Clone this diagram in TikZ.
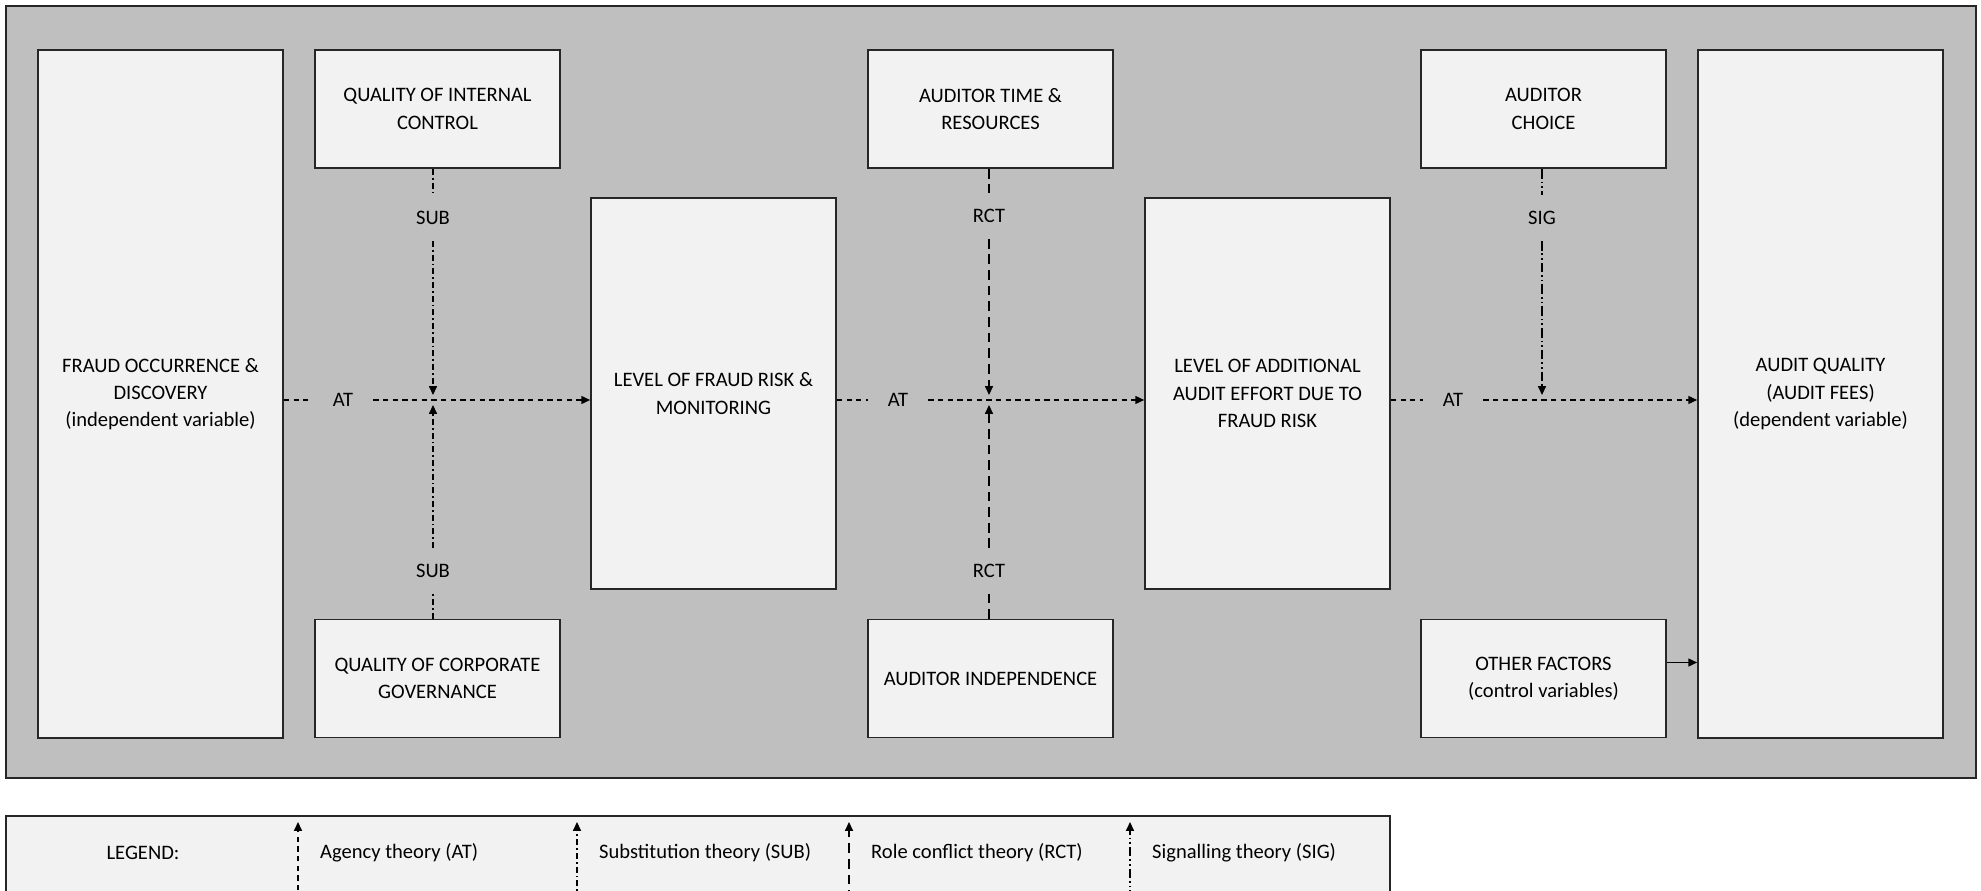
\documentclass[tikz,border=0pt]{standalone}
\usepackage{fontspec}
\setmainfont{Carlito}
\usetikzlibrary{arrows.meta}
\definecolor{panelgray}{HTML}{BFBFBF}
\definecolor{boxgray}{HTML}{F2F2F2}
\definecolor{edgegray}{HTML}{262626}

\begin{document}
\begin{tikzpicture}[x=0.02cm, y=-0.02cm,
        font=\fontsize{11.7}{15.5}\selectfont,
        box/.style={draw=edgegray, line width=1pt, fill=boxgray, align=center, minimum width=4.9cm, inner sep=2pt},
        smallbox/.style={box, minimum height=2.36cm},
        tallbox/.style={box, minimum height=13.76cm},
        midbox/.style={box, minimum height=7.82cm},
        lbl/.style={minimum width=1.2cm, minimum height=0.9cm, inner sep=0pt},
        link/.style={line width=0.8pt, black},
        atline/.style={link, dash pattern=on 3pt off 2.5pt},
        subline/.style={link, dash pattern=on 3.4pt off 1.7pt on 1pt off 1.7pt},
        rctline/.style={link, dash pattern=on 5.5pt off 3.4pt},
        sigline/.style={link, dash pattern=on 5.5pt off 1.7pt on 0.9pt off 1.7pt on 0.9pt off 1.7pt},
        tip/.style={-{Triangle[length=5pt, width=4.5pt]}}]
    \useasboundingbox (0,0) rectangle (1981,891);
    \clip (0,0) rectangle (1981,891);

    % panel
    \draw[draw=edgegray, line width=1pt, fill=panelgray] (6,6) rectangle (1976,778);

    % boxes
    \node[tallbox] (fraud) at (160.5,394) {FRAUD OCCURRENCE \&\\DISCOVERY\\(independent variable)};
    \node[smallbox] (intctrl) at (437.5,109) {QUALITY OF INTERNAL\\CONTROL};
    \node[smallbox] (corpgov) at (437.5,678.5) {QUALITY OF CORPORATE\\GOVERNANCE};
    \node[midbox] (riskmon) at (713.5,393.5) {LEVEL OF FRAUD RISK \&\\MONITORING};
    \node[smallbox] (auditres) at (990.5,109) {AUDITOR TIME \&\\RESOURCES};
    \node[smallbox] (auditind) at (990.5,678.5) {AUDITOR INDEPENDENCE};
    \node[midbox] (effort) at (1267.5,393.5) {LEVEL OF ADDITIONAL\\AUDIT EFFORT DUE TO\\FRAUD RISK};
    \node[smallbox] (choice) at (1543.5,109) {AUDITOR\\CHOICE};
    \node[smallbox] (other) at (1543.5,678.5) {OTHER FACTORS\\(control variables)};
    \node[tallbox] (quality) at (1820.5,394) {AUDIT QUALITY\\(AUDIT FEES)\\(dependent variable)};

    % theory labels
    \node[lbl] (atA) at (343,400) {AT};
    \node[lbl] (atB) at (898,400) {AT};
    \node[lbl] (atC) at (1453,400) {AT};
    \node[lbl] (subA) at (433,218) {SUB};
    \node[lbl] (subB) at (433,571) {SUB};
    \node[lbl] (rctA) at (989,216) {RCT};
    \node[lbl] (rctB) at (989,571) {RCT};
    \node[lbl] (sigA) at (1542,218) {SIG};
    \coordinate (jA) at (433,400);
    \coordinate (jB) at (989,400);
    \coordinate (jC) at (1542,400);

    % agency theory chain
    \draw[atline] (atA -| fraud.east) -- (atA.west);
    \draw[atline, tip] (atA.east) -- (atA -| riskmon.west);
    \draw[atline] (atB -| riskmon.east) -- (atB.west);
    \draw[atline, tip] (atB.east) -- (atB -| effort.west);
    \draw[atline] (atC -| effort.east) -- (atC.west);
    \draw[atline, tip] (atC.east) -- (atC -| quality.west);

    % moderators
    \draw[subline] (subA |- intctrl.south) -- (subA.north);
    \draw[subline, tip, shorten >=0.1cm] (subA.south) -- (jA);
    \draw[subline] (subB |- corpgov.north) -- (subB.south);
    \draw[subline, tip, shorten >=0.1cm] (subB.north) -- (jA);
    \draw[rctline] (rctA |- auditres.south) -- (rctA.north);
    \draw[rctline, tip, shorten >=0.1cm] (rctA.south) -- (jB);
    \draw[rctline] (rctB |- auditind.north) -- (rctB.south);
    \draw[rctline, tip, shorten >=0.1cm] (rctB.north) -- (jB);
    \draw[sigline] (sigA |- choice.south) -- (sigA.north);
    \draw[sigline, tip, shorten >=0.1cm] (sigA.south) -- (jC);
    \draw[link, tip] ([yshift=0.32cm]other.east) -- ([yshift=0.32cm]other.east -| quality.west);

    % legend
    \draw[draw=edgegray, line width=1pt, fill=boxgray] (6,816) rectangle (1390,900);
    \node (legend) at (143,853) {LEGEND:};
    \foreach \x/\style/\name in {298/atline/{Agency theory (AT)}, 577/subline/{Substitution theory (SUB)}, 849/rctline/{Role conflict theory (RCT)}, 1130/sigline/{Signalling theory (SIG)}} {
        \coordinate (lb\x) at (\x,900);
        \coordinate (lt\x) at (\x,822);
        \draw[\style, tip] (lb\x) -- (lt\x);
        \node[anchor=west] (key\x) at (\x+16,853) {\name};
    }
\end{tikzpicture}
\end{document}
